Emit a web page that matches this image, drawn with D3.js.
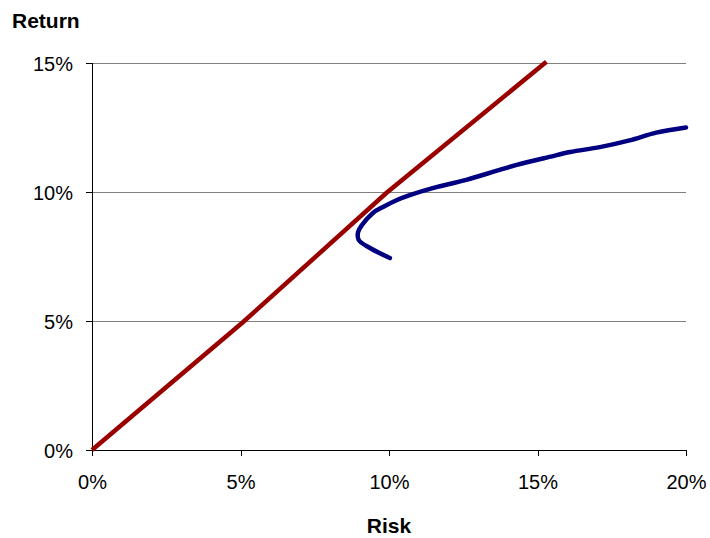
<!DOCTYPE html>
<html><head><meta charset="utf-8">
<script src="https://cdn.jsdelivr.net/npm/d3@7"></script>
<style>body{margin:0;background:#fff;} text{font-family:"Liberation Sans",Arial,sans-serif;}</style>
</head><body><svg id="c" width="710" height="538"></svg>
<script>
const xTicks = [0, 5, 10, 15, 20];
const yTicks = [0, 5, 10, 15];
const cmlRisk = [0, 5.08, 9.9, 15.3];
const cmlReturn = [0, 4.95, 9.95, 15.05];
const frontierRisk = [10.03, 9.36, 8.98, 8.96, 9.09, 9.46, 9.8, 10.27, 10.7, 11.5, 12.6, 13.7, 14.3, 15.4, 16.1, 17.1, 18.1, 19.0, 20.0];
const frontierReturn = [7.44, 7.83, 8.14, 8.45, 8.72, 9.19, 9.42, 9.69, 9.88, 10.16, 10.47, 10.85, 11.05, 11.36, 11.55, 11.74, 12.0, 12.3, 12.5];

const svg = d3.select("#c");
const x = d3.scaleLinear().domain([0, 20]).range([92, 686]);
const y = d3.scaleLinear().domain([0, 15]).range([450, 63]);

svg.append("g").selectAll("line").data(yTicks.filter(d => d > 0)).join("line")
  .attr("x1", x(0)).attr("x2", x(20)).attr("y1", d => y(d)).attr("y2", d => y(d))
  .attr("stroke", "#808080").attr("stroke-width", 1).attr("shape-rendering", "crispEdges");

const yAxis = svg.append("g").attr("transform", `translate(${x(0)},0)`)
  .call(d3.axisLeft(y).tickValues(yTicks).tickFormat(d => d + "%").tickSize(6).tickPadding(13));
const xAxis = svg.append("g").attr("transform", `translate(0,${y(0)})`)
  .call(d3.axisBottom(x).tickValues(xTicks).tickFormat(d => d + "%").tickSize(6).tickPadding(19));
[yAxis, xAxis].forEach(a => {
  a.selectAll("path,line").attr("stroke", "#000").attr("shape-rendering", "crispEdges");
  a.select(".domain").attr("d", a === yAxis ? `M0,${y(15)}V${y(0)}` : `M${x(0)},0H${x(20)}`);
  a.selectAll("text").attr("font-size", 20).attr("fill", "#000").attr("font-family", "Liberation Sans, Arial, sans-serif");
});
yAxis.selectAll("text").attr("dy", "0.36em");

const line = d3.line().x(d => x(d[0])).y(d => y(d[1]));
svg.append("path").datum(frontierRisk.map((r, i) => [r, frontierReturn[i]]))
  .attr("d", line.curve(d3.curveCatmullRom)).attr("fill", "none")
  .attr("stroke", "#000080").attr("stroke-width", 4.5).attr("stroke-linecap", "round").attr("stroke-linejoin", "round");
svg.append("path").datum(cmlRisk.map((r, i) => [r, cmlReturn[i]]))
  .attr("d", d3.line().x(d => x(d[0])).y(d => y(d[1]))).attr("fill", "none")
  .attr("stroke", "#990000").attr("stroke-width", 4.5).attr("stroke-linecap", "butt");

svg.append("text").attr("x", 12).attr("y", 28).attr("font-size", 21).attr("font-weight", "bold").text("Return");
svg.append("text").attr("x", 389).attr("y", 533).attr("text-anchor", "middle").attr("font-size", 21).attr("font-weight", "bold").text("Risk");
</script></body></html>
